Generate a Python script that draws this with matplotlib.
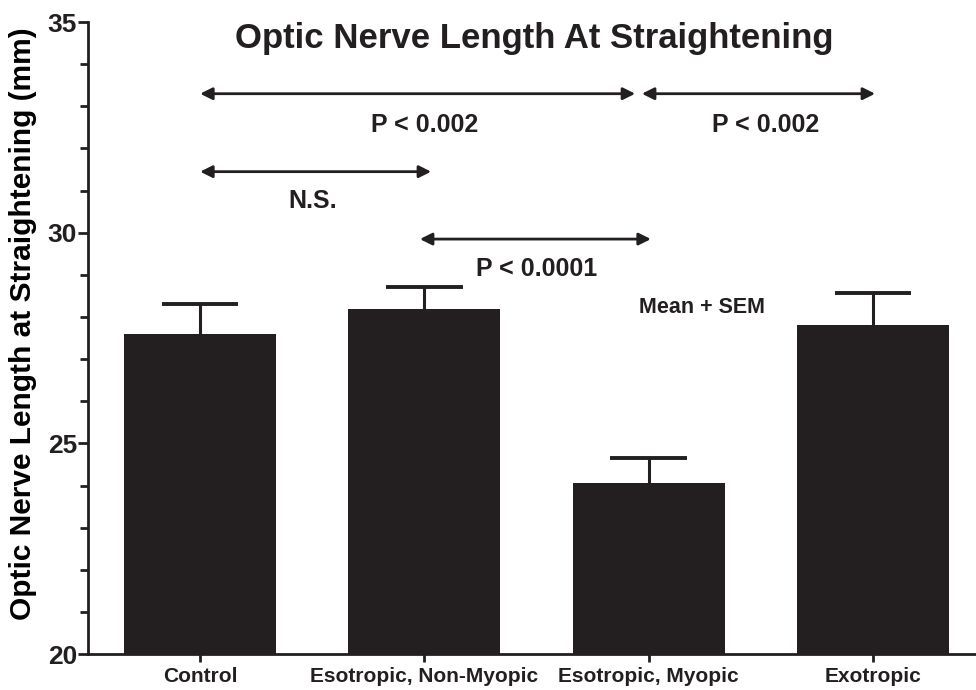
import matplotlib
matplotlib.use('Agg')
import matplotlib.pyplot as plt
from matplotlib.ticker import MultipleLocator

INK = '#231f20'

groups = ['Control', 'Esotropic, Non-Myopic', 'Esotropic, Myopic', 'Exotropic']
means = [27.6, 28.2, 24.05, 27.82]
sem = [0.7, 0.52, 0.6, 0.74]

# comparisons: (from group idx, to group idx, y level, label, label y)
comp_from = [0, 1.97, 0, 0.98]
comp_to = [1.94, 3.01, 1.03, 2.01]
comp_y = [33.3, 33.3, 31.45, 29.85]
comp_text = ['P < 0.002', 'P < 0.002', 'N.S.', 'P < 0.0001']
comp_text_x = [1.0, 2.52, 0.5, 1.5]
comp_text_y = [32.55, 32.55, 30.75, 29.13]

plt.rcParams.update({
    'font.family': ['Liberation Sans', 'DejaVu Sans'],
    'font.weight': 'bold',
    'text.color': INK,
    'axes.edgecolor': INK,
    'xtick.color': INK,
    'ytick.color': INK,
})

fig = plt.figure(figsize=(9.76, 6.9), dpi=100)
ax = fig.add_axes([0.0902, 0.052, 0.9098, 0.916])

x = list(range(len(groups)))
tops = [m + s for m, s in zip(means, sem)]
ax.bar(x, means, width=0.678, color=INK, edgecolor=INK, linewidth=0, zorder=2)
# upper-only error bars: stem from bar top + cap
ax.vlines(x, means, tops, color=INK, lw=2.2, zorder=1)
ax.hlines(tops, [i - 0.17 for i in x], [i + 0.17 for i in x], color=INK, lw=2.8, zorder=1)

ax.set_xlim(-0.5, 3.46)
ax.set_ylim(20, 35)
ax.set_xticks(x)
ax.set_xticklabels(groups, fontsize=15, fontweight='bold')
ax.yaxis.set_major_locator(MultipleLocator(5))
ax.yaxis.set_minor_locator(MultipleLocator(1))
ax.tick_params(axis='y', which='major', length=7, width=2, labelsize=19, pad=1)
ax.tick_params(axis='y', which='minor', length=5.5, width=2)
ax.tick_params(axis='x', length=6, width=2, pad=3)
for lab in ax.get_yticklabels():
    lab.set_fontweight('bold')

for s in ['top', 'right']:
    ax.spines[s].set_visible(False)
ax.spines['left'].set_linewidth(2)
ax.spines['bottom'].set_linewidth(2)

ax.set_ylabel('Optic Nerve Length at Straightening (mm)', fontsize=21.5,
              fontweight='bold')
ax.yaxis.set_label_coords(-0.058, 0.523)

ax.text(1.49, 34.6, 'Optic Nerve Length At Straightening', ha='center', va='center',
        fontsize=25, fontweight='bold')

for x0, x1, y, t, tx, ty in zip(comp_from, comp_to, comp_y, comp_text, comp_text_x, comp_text_y):
    ax.annotate('', xy=(x1, y), xytext=(x0, y),
                arrowprops=dict(arrowstyle='<|-|>', color=INK, lw=2,
                                mutation_scale=18, shrinkA=0, shrinkB=0))
    ax.text(tx, ty, t, ha='center', va='center', fontsize=18, fontweight='bold')

ax.text(2.24, 28.23, 'Mean + SEM', ha='center', va='center', fontsize=15.5, fontweight='bold')

fig.savefig('out.png', dpi=100)
